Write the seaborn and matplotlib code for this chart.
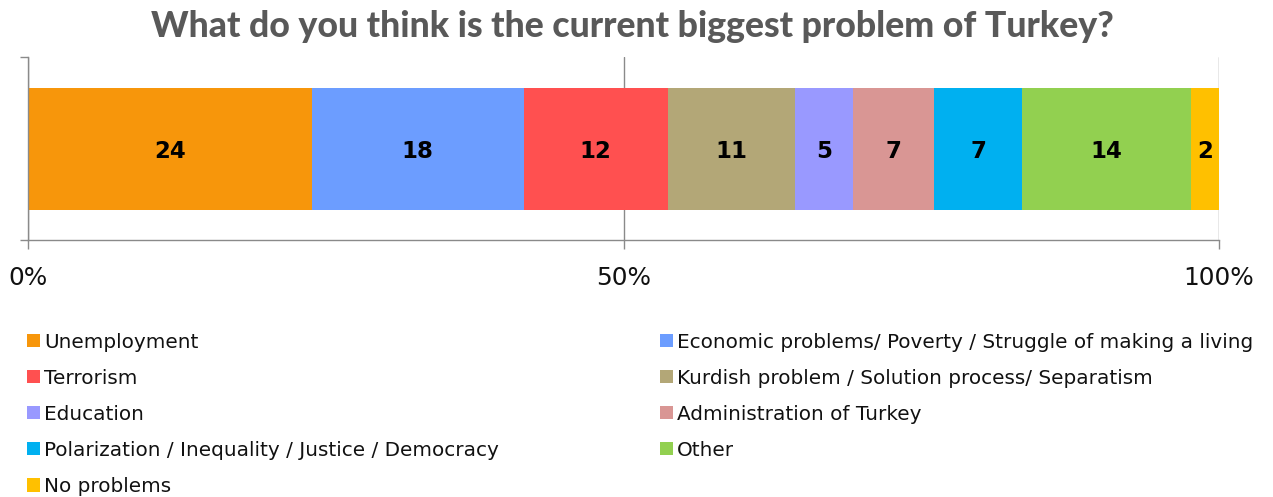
import matplotlib
matplotlib.use("Agg")
import matplotlib.pyplot as plt
import matplotlib.transforms as mtransforms
import seaborn as sns
import pandas as pd

# ---------------- data ----------------
title = "What do you think is the current biggest problem of Turkey?"
categories = [
    "Unemployment",
    "Economic problems/ Poverty / Struggle of making a living",
    "Terrorism",
    "Kurdish problem / Solution process/ Separatism",
    "Education",
    "Administration of Turkey",
    "Polarization / Inequality / Justice / Democracy",
    "Other",
    "No problems",
]
values = [23.8, 17.8, 12.1, 10.7, 4.9, 6.8, 7.4, 14.2, 2.3]
value_labels = ["24", "18", "12", "11", "5", "7", "7", "14", "2"]
colors = ["#F7960B", "#6C9DFF", "#FF5050", "#B3A777", "#9999FF",
          "#D99694", "#00B0F0", "#92D050", "#FFC000"]
xticks = [0, 50, 100]
xtick_labels = ["0%", "50%", "100%"]

df = pd.DataFrame({"category": categories, "value": values, "row": "Turkey"})
df["cum"] = df["value"].cumsum()
df["mid"] = df["cum"] - df["value"] / 2

# ---------------- style ----------------
sns.set_theme(style="white")
plt.rcParams["font.family"] = ["DejaVu Sans"]
GRAY = "#8A8A8A"
HEAVY = ["Lato", "Roboto", "DejaVu Sans"]

W, H = 1273, 497
fig = plt.figure(figsize=(W / 100, H / 100), dpi=100)
ax = fig.add_axes([28.3 / W, 1 - 240 / H, (1218.7 - 28.3) / W, (240 - 57) / H])

order = categories[::-1]
sns.barplot(data=df, x="cum", y="row", hue="category", hue_order=order,
            palette=dict(zip(categories, colors)), dodge=False, width=2 / 3,
            errorbar=None, orient="h", legend=False, ax=ax, linewidth=0,
            saturation=1)

ax.set_xlim(0, 100)
ax.set_ylim(0.5, -0.5)
ax.set_xlabel("")
ax.set_ylabel("")
ax.set_xticks(xticks, xtick_labels)
ax.set_yticks([-0.5, 0.5], ["", ""])
ax.set_axisbelow(True)
ax.xaxis.grid(True, color=GRAY, linewidth=1.0)
ax.yaxis.grid(False)
for s in ["top", "right"]:
    ax.spines[s].set_visible(False)
for s in ["left", "bottom"]:
    ax.spines[s].set_color(GRAY)
    ax.spines[s].set_linewidth(1.0)
ax.tick_params(axis="x", direction="out", length=6.5, width=1.0, color=GRAY,
               labelsize=17.8, pad=12, labelcolor="#111111", bottom=True)
ax.tick_params(axis="y", direction="out", length=5.8, width=1.0, color=GRAY,
               left=True)

# data labels (nudged down a few pixels to sit at the visual centre)
nudge = ax.transData + mtransforms.ScaledTranslation(0, -3 / 100, fig.dpi_scale_trans)
for i, r in df.iterrows():
    ax.text(r["mid"], 0, value_labels[i], ha="center", va="center",
            fontsize=16.5, fontweight="bold", color="black",
            family=["DejaVu Sans"], transform=nudge)

# legend: two columns placed explicitly
patch_for = {cat: p for cat, p in zip(order, ax.patches)}
left_items = categories[0::2]
right_items = categories[1::2]
leg_kw = dict(frameon=False, fontsize=14.4, handlelength=0.65, handleheight=0.65,
              handletextpad=0.2, labelspacing=0.855, borderpad=0,
              borderaxespad=0, loc="upper left", bbox_transform=fig.transFigure,
              labelcolor="#111111")
fig.legend([patch_for[c] for c in left_items], left_items,
           bbox_to_anchor=(27 / W, 1 - 332.5 / H), **leg_kw)
fig.legend([patch_for[c] for c in right_items], right_items,
           bbox_to_anchor=(660 / W, 1 - 332.5 / H), **leg_kw)

# title, fitted to the reference width
t = fig.text(0.4968, 1 - 37 / H, title, ha="center", va="baseline", fontsize=22,
             fontweight="black", color="#595959", family=HEAVY)
fig.canvas.draw()
w = t.get_window_extent().width
t.set_fontsize(22 * 962 / w)

fig.savefig("out.png", dpi=100)
